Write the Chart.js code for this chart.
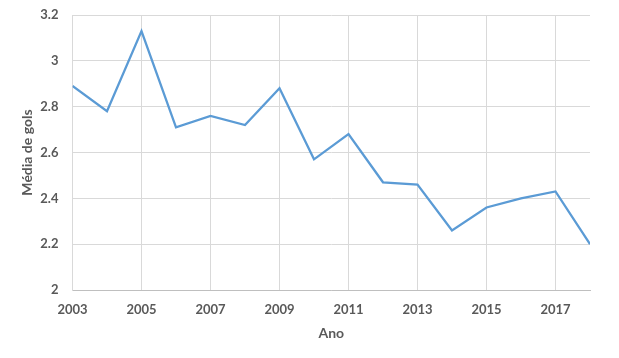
<!DOCTYPE html>
<html><head><meta charset="utf-8">
<script src="https://cdn.jsdelivr.net/npm/chart.js@4"></script>
<style>html,body{margin:0;padding:0;background:#fff}#w{width:619px;height:358px}</style>
</head><body><div id="w"><canvas id="c"></canvas></div>
<script>
const years = [2003,2004,2005,2006,2007,2008,2009,2010,2011,2012,2013,2014,2015,2016,2017,2018];
const mediaGols = [2.89,2.78,3.13,2.71,2.76,2.72,2.88,2.57,2.68,2.47,2.46,2.26,2.36,2.40,2.43,2.20];
const xTicks = [2003,2005,2007,2009,2011,2013,2015,2017];
const yTicks = [2,2.2,2.4,2.6,2.8,3,3.2];
const fontFam = "Lato, 'Open Sans', sans-serif";
new Chart(document.getElementById('c'), {
  type: 'line',
  data: { datasets: [{ data: years.map((y,i)=>({x:y,y:mediaGols[i]})), borderColor:'#5b9bd5', borderWidth:2.3, pointRadius:0, tension:0, fill:false }] },
  options: {
    responsive:true, maintainAspectRatio:false, animation:false,
    layout:{ padding:{ left:0, right:29, top:15, bottom:0 } },
    plugins:{ legend:{display:false}, tooltip:{enabled:false} },
    scales:{
      x:{ type:'linear', min:2003, max:2018,
        afterBuildTicks:s=>{ s.ticks = xTicks.map(v=>({value:v})); },
        afterFit:s=>{ s.height = 68; },
        grid:{ color:'#d9d9d9', lineWidth:1, drawTicks:false },
        border:{ color:'#bfbfbf', width:1 },
        ticks:{ color:'#595959', font:{family:fontFam, size:13, weight:'bold'}, padding:12, maxRotation:0, callback:v=>String(v) },
        title:{ display:true, text:'Ano', color:'#595959', font:{family:fontFam, size:14, weight:'bold'}, padding:{top:0, bottom:16} }
      },
      y:{ min:2, max:3.2,
        afterBuildTicks:s=>{ s.ticks = yTicks.map(v=>({value:v})); },
        afterFit:s=>{ s.width = 72.5; },
        grid:{ color:'#d9d9d9', lineWidth:1, drawTicks:true, tickLength:8, tickColor:'rgba(0,0,0,0)' },
        border:{ color:'#d9d9d9', width:1 },
        ticks:{ color:'#595959', font:{family:fontFam, size:13, weight:'bold'}, padding:6, callback:v=>String(Math.round(v*10)/10) },
        title:{ display:true, text:'Média de gols', color:'#595959', font:{family:fontFam, size:14, weight:'bold'}, padding:{top:19, bottom:0} }
      }
    }
  }
});
</script></body></html>
